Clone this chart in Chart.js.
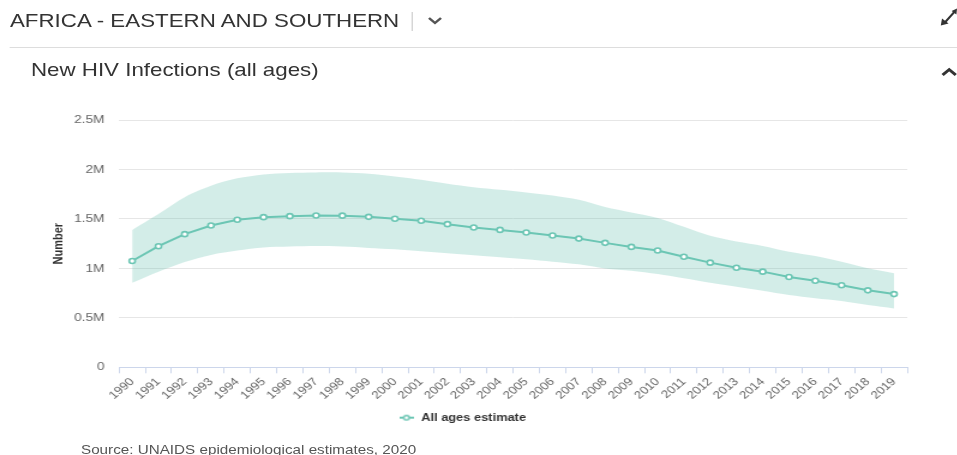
<!DOCTYPE html>
<html>
<head>
<meta charset="utf-8">
<script src="https://cdn.jsdelivr.net/npm/chart.js@4.4.0/dist/chart.umd.min.js"></script>
<style>
  html, body { margin: 0; padding: 0; background: #fff; overflow: hidden; }
  body { width: 957px; height: 455px; position: relative; font-family: Arial, "Liberation Sans", sans-serif; }
  /* the whole panel is drawn a bit narrower and stretched sideways, like the reference */
  #panel { position: absolute; left: 0; top: 0; width: 797.5px; height: 455px; transform: scaleX(1.2); transform-origin: 0 0; }
  .txt { position: absolute; white-space: nowrap; }
  #region { left: 8.3px; top: 12px; font-size: 18.6px; line-height: 18px; color: #333; }
  #sep { position: absolute; left: 343.3px; top: 12px; width: 1px; height: 19px; background: #ccc; }
  #rule { position: absolute; left: 8.3px; right: 0; top: 47px; height: 1px; background: #ddd; }
  #title { left: 25.8px; top: 61px; font-size: 18.6px; line-height: 18px; color: #333; }
  #source { left: 67.5px; top: 444px; font-size: 12.7px; line-height: 13px; color: #555; }
  svg { position: absolute; overflow: visible; }
  #chartBox { position: absolute; left: 0; top: 100px; width: 812px; height: 340px; }
</style>
</head>
<body>
<div id="panel">
  <div class="txt" id="region">AFRICA - EASTERN AND SOUTHERN</div>
  <div id="sep"></div>
  <svg style="left:355.5px;top:16px" width="13" height="10"><polyline points="1.5,2 6.5,7 11.5,2" fill="none" stroke="#555" stroke-width="2.2"/></svg>
  <svg style="left:784px;top:8px" width="14" height="18">
    <line x1="3" y1="15" x2="12" y2="3" stroke="#333" stroke-width="2"/>
    <polygon points="0,17.5 1,10.5 6.5,15.5" fill="#333"/>
    <polygon points="13.5,0.5 13,6.5 9,3" fill="#333"/>
  </svg>
  <div id="rule"></div>
  <div class="txt" id="title">New HIV Infections (all ages)</div>
  <svg style="left:784px;top:66px" width="14" height="11"><polyline points="1.5,9 7,3.5 12.5,9" fill="none" stroke="#333" stroke-width="2.6"/></svg>
  <div id="chartBox"><canvas id="chart" width="812" height="340"></canvas></div>
  <div class="txt" id="source">Source: UNAIDS epidemiological estimates, 2020</div>
</div>

<script>
// data
const years = ['1990', '1991', '1992', '1993', '1994', '1995', '1996', '1997', '1998', '1999',
    '2000', '2001', '2002', '2003', '2004', '2005', '2006', '2007', '2008', '2009',
    '2010', '2011', '2012', '2013', '2014', '2015', '2016', '2017', '2018', '2019'];

const estimate = [1075000, 1224000, 1346000, 1433000, 1491000, 1518000, 1528000, 1535000, 1533000, 1521000,
    1501000, 1481000, 1447000, 1413000, 1389000, 1362000, 1332000, 1301000, 1258000, 1217000,
    1180000, 1117000, 1058000, 1007000, 967000, 913000, 875000, 829000, 778000, 740000];

const upperBound = [1389000, 1550000, 1720000, 1835000, 1910000, 1950000, 1965000, 1970000, 1970000, 1957000,
    1930000, 1897000, 1856000, 1820000, 1795000, 1768000, 1737000, 1694000, 1620000, 1565000,
    1510000, 1420000, 1329000, 1271000, 1227000, 1169000, 1126000, 1068000, 1001000, 950000];

const lowerBound = [855000, 967000, 1065000, 1136000, 1180000, 1210000, 1220000, 1225000, 1220000, 1207000,
    1193000, 1173000, 1153000, 1133000, 1112000, 1092000, 1068000, 1041000, 1000000, 977000,
    943000, 900000, 855000, 814000, 774000, 730000, 697000, 669000, 629000, 595000];

const yTickValues = [0, 500000, 1000000, 1500000, 2000000, 2500000];
const yTickLabels = ['0', '0.5M', '1M', '1.5M', '2M', '2.5M'];

const lineColor = '#6cc6b4';
const bandColor = 'rgba(108, 197, 180, 0.3)';

// legend marker: short line with an open circle
function makeLegendMarker() {
    const c = document.createElement('canvas');
    c.width = 12;
    c.height = 8;
    const g = c.getContext('2d');
    g.strokeStyle = lineColor;
    g.lineWidth = 2;
    g.beginPath();
    g.moveTo(0, 4);
    g.lineTo(12, 4);
    g.stroke();
    g.beginPath();
    g.arc(6, 4, 2.3, 0, Math.PI * 2);
    g.fillStyle = '#fff';
    g.fill();
    g.lineWidth = 1.5;
    g.stroke();
    return c;
}

Chart.defaults.font.family = 'Arial, "Liberation Sans", sans-serif';

const ctx = document.getElementById('chart').getContext('2d');
new Chart(ctx, {
    type: 'line',
    data: {
        labels: years,
        datasets: [
            {
                label: 'All ages estimate',
                data: estimate,
                borderColor: lineColor,
                borderWidth: 2,
                pointRadius: 2.5,
                pointBorderWidth: 1.6,
                pointBackgroundColor: '#fff',
                pointBorderColor: lineColor,
                tension: 0,
                fill: false,
            },
            {
                label: 'upper',
                data: upperBound,
                borderWidth: 0,
                pointRadius: 0,
                backgroundColor: bandColor,
                tension: 0.3,
                fill: '+1',
            },
            {
                label: 'lower',
                data: lowerBound,
                borderWidth: 0,
                pointRadius: 0,
                backgroundColor: bandColor,
                tension: 0.3,
                fill: false,
            },
        ],
    },
    options: {
        responsive: false,
        animation: false,
        layout: {
            padding: { left: 14, right: 56, top: 20, bottom: 7 },
        },
        plugins: {
            tooltip: { enabled: false },
            legend: {
                display: true,
                position: 'bottom',
                labels: {
                    filter: item => item.datasetIndex === 0,
                    usePointStyle: true,
                    pointStyle: makeLegendMarker(),
                    pointStyleWidth: 14,
                    boxHeight: 8,
                    padding: 8,
                    color: '#333',
                    font: { size: 10.7, weight: 'bold' },
                },
            },
        },
        scales: {
            x: {
                offset: true,
                grid: {
                    offset: true,
                    drawOnChartArea: false,
                    drawTicks: true,
                    tickLength: 6,
                    color: '#ccd6eb',
                },
                border: { display: true, color: '#ccd6eb' },
                ticks: {
                    autoSkip: false,
                    maxRotation: 45,
                    minRotation: 45,
                    padding: 2,
                    color: '#666',
                    font: { size: 11 },
                },
                afterFit: scale => { scale.height = 37; },
            },
            y: {
                min: 0,
                max: 2500000,
                afterBuildTicks: scale => {
                    scale.ticks = yTickValues.map(v => ({ value: v }));
                },
                grid: {
                    color: '#e6e6e6',
                    drawTicks: false,
                },
                border: { display: false },
                ticks: {
                    padding: 12,
                    color: '#666',
                    font: { size: 11.5 },
                    callback: value => yTickLabels[yTickValues.indexOf(value)],
                },
                title: {
                    display: true,
                    text: 'Number',
                    color: '#333',
                    font: { size: 11, weight: 'bold' },
                    padding: { top: 28, bottom: 0 },
                },
                afterFit: scale => { scale.width = 85.2; },
            },
        },
    },
});
</script>
</body>
</html>
